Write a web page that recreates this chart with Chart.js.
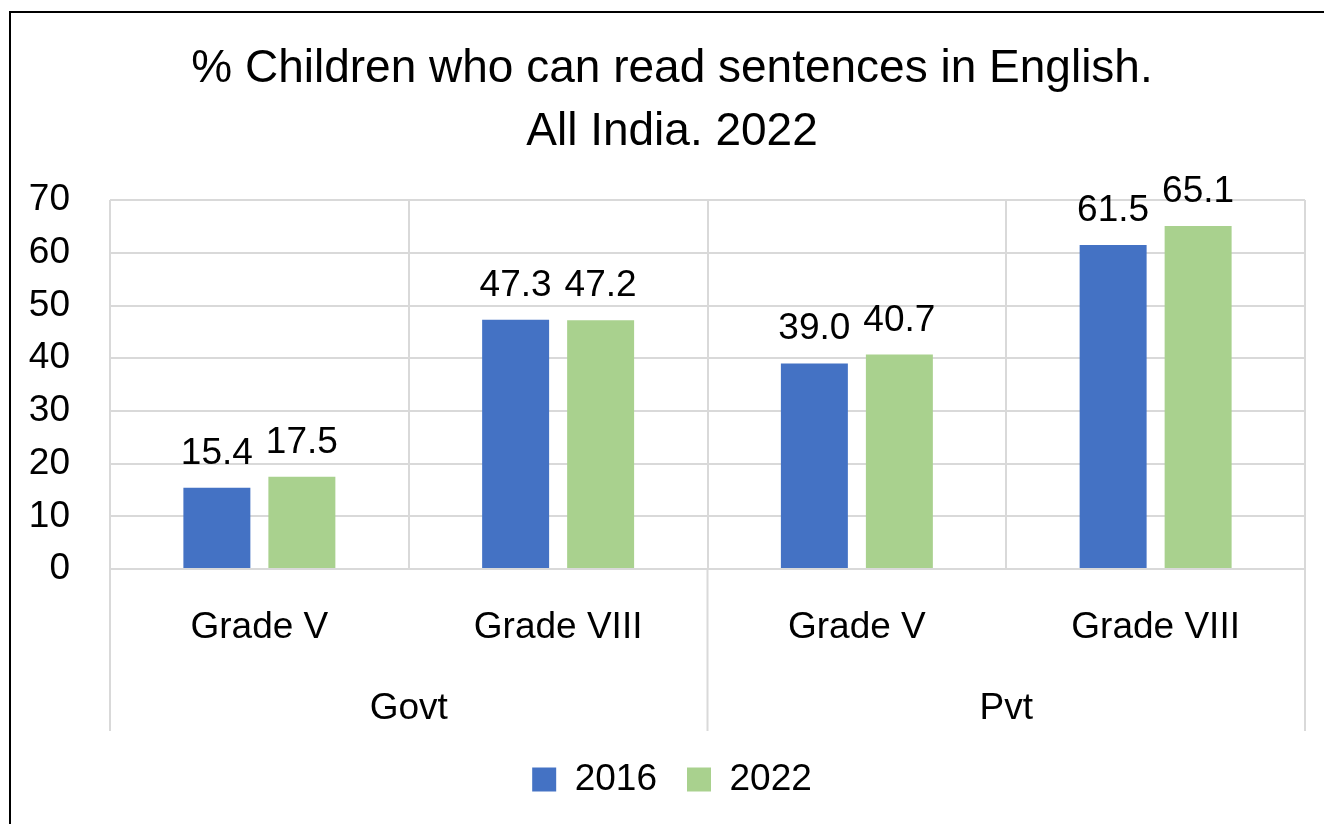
<!DOCTYPE html>
<html lang="en">
<head>
    <meta charset="UTF-8">
    <title>English reading chart</title>
    <script src="https://cdn.jsdelivr.net/npm/chart.js@4"></script>
    <style>
        html, body { margin: 0; padding: 0; background: #fff; overflow: hidden; }
        #wrap { width: 1324px; height: 824px; overflow: hidden; }
    </style>
</head>
<body>
<div id="wrap"><canvas id="myChart" width="1344" height="824"></canvas></div>
<script>
    // data
    const grades = ['Grade V', 'Grade VIII', 'Grade V', 'Grade VIII'];
    const groups = ['Govt', 'Pvt'];
    const years = ['2016', '2022'];
    const values2016 = [15.4, 47.3, 39.0, 61.5];
    const values2022 = [17.5, 47.2, 40.7, 65.1];
    const titleLines = ['% Children who can read sentences in English.', 'All India. 2022'];

    const FONT = "'Liberation Sans', Arial, sans-serif";
    const GRID = '#d9d9d9';

    // black frame round the chart (right and bottom edges fall outside the window)
    const framePlugin = {
        id: 'frame',
        beforeDraw(chart) {
            const ctx = chart.ctx;
            ctx.save();
            ctx.fillStyle = '#fff';
            ctx.fillRect(0, 0, chart.width, chart.height);
            ctx.strokeStyle = '#000';
            ctx.lineWidth = 2;
            ctx.strokeRect(10, 12, 1500, 1000);
            ctx.restore();
        }
    };

    // group separators continue down through the label rows
    const groupLinesPlugin = {
        id: 'groupLines',
        afterDraw(chart) {
            const x = chart.scales.x;
            const x2 = chart.scales.x2;
            const area = chart.chartArea;
            const per = grades.length / groups.length;
            const ctx = chart.ctx;
            ctx.save();
            ctx.strokeStyle = GRID;
            ctx.lineWidth = 2;
            for (let g = 0; g <= groups.length; g++) {
                let px;
                if (g === 0) px = x.left;
                else if (g === groups.length) px = x.right;
                else px = (x.getPixelForValue(g * per - 1) + x.getPixelForValue(g * per)) / 2;
                ctx.beginPath();
                ctx.moveTo(px, area.bottom);
                ctx.lineTo(px, x2.bottom);
                ctx.stroke();
            }
            ctx.restore();
        }
    };

    // value labels above the bars
    const valueLabelPlugin = {
        id: 'valueLabels',
        afterDatasetsDraw(chart) {
            const ctx = chart.ctx;
            ctx.save();
            ctx.font = '37px ' + FONT;
            ctx.fillStyle = '#000';
            ctx.textAlign = 'center';
            ctx.textBaseline = 'alphabetic';
            chart.data.datasets.forEach((ds, i) => {
                const meta = chart.getDatasetMeta(i);
                meta.data.forEach((bar, j) => {
                    ctx.fillText(ds.data[j].toFixed(1), bar.x, bar.y - 24);
                });
            });
            ctx.restore();
        }
    };

    const ctx = document.getElementById('myChart').getContext('2d');
    new Chart(ctx, {
        type: 'bar',
        data: {
            labels: grades,
            datasets: [
                { label: years[0], data: values2016, backgroundColor: '#4472c4',
                  categoryPercentage: 0.569, barPercentage: 0.788 },
                { label: years[1], data: values2022, backgroundColor: '#a9d18e',
                  categoryPercentage: 0.569, barPercentage: 0.788 }
            ]
        },
        options: {
            responsive: false,
            animation: false,
            layout: { padding: { left: 0, right: 0, top: 0, bottom: 16 } },
            plugins: {
                title: {
                    display: true,
                    text: titleLines,
                    color: '#000',
                    font: { family: FONT, size: 46, weight: 'normal', lineHeight: 1.36 },
                    padding: { top: 38, bottom: 37 }
                },
                legend: {
                    position: 'bottom',
                    labels: {
                        color: '#000',
                        font: { family: FONT, size: 37 },
                        boxWidth: 24,
                        boxHeight: 24,
                        padding: 30
                    }
                },
                tooltip: { enabled: false }
            },
            scales: {
                y: {
                    min: 0,
                    max: 70,
                    ticks: { stepSize: 10, color: '#000', padding: 40, font: { family: FONT, size: 37 } },
                    grid: { color: GRID, lineWidth: 2, drawTicks: false },
                    border: { display: false },
                    afterFit(scale) { scale.width = 110; }
                },
                // empty right-hand margin so the chart sits where it does in the original
                yRight: {
                    type: 'linear',
                    position: 'right',
                    min: 0,
                    max: 70,
                    ticks: { display: false },
                    grid: { drawOnChartArea: false, drawTicks: false },
                    border: { display: false },
                    afterFit(scale) { scale.width = 39; }
                },
                x: {
                    weight: 0,
                    ticks: { color: '#000', padding: 37, font: { family: FONT, size: 37 }, maxRotation: 0 },
                    grid: { offset: true, color: GRID, lineWidth: 2, drawTicks: false },
                    border: { display: false },
                    afterFit(scale) { scale.height = 90; }
                },
                x2: {
                    type: 'category',
                    labels: groups,
                    position: 'bottom',
                    weight: 1,
                    offset: true,
                    ticks: { color: '#000', padding: 28, font: { family: FONT, size: 37 }, maxRotation: 0 },
                    grid: { display: false, drawTicks: false },
                    border: { display: false },
                    afterFit(scale) { scale.height = 72; }
                }
            }
        },
        plugins: [framePlugin, groupLinesPlugin, valueLabelPlugin]
    });
</script>
</body>
</html>
